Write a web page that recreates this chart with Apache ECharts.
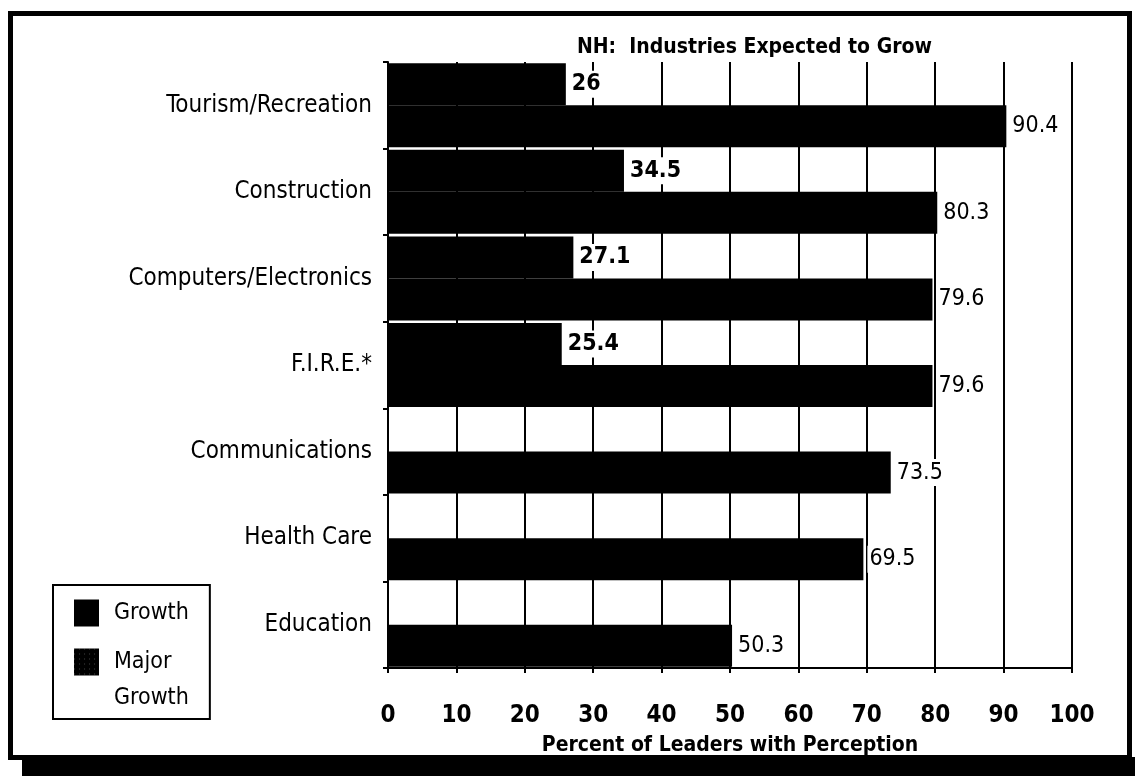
<!DOCTYPE html>
<html>
<head>
<meta charset="utf-8">
<title>NH: Industries Expected to Grow</title>
<script src="https://cdn.jsdelivr.net/npm/echarts@6/dist/echarts.min.js"></script>
<style>
  html, body { margin: 0; padding: 0; background: #fff; }
  #growthChart { width: 1135px; height: 776px; }
</style>
</head>
<body>
<div id="growthChart"></div>
<script>
// values
const categories = ['Tourism/Recreation', 'Construction', 'Computers/Electronics', 'F.I.R.E.*',
                    'Communications', 'Health Care', 'Education'];
const growth = [90.4, 80.3, 79.6, 79.6, 73.5, 69.5, 50.3];
const majorGrowth = [26, 34.5, 27.1, 25.4, null, null, null];
const xTicks = [0, 10, 20, 30, 40, 50, 60, 70, 80, 90, 100];

const font = '"DejaVu Sans Condensed", "Liberation Sans Narrow", "DejaVu Sans", sans-serif';

let chart = echarts.init(document.getElementById('growthChart'));

let option = {
    backgroundColor: '#fff',
    textStyle: { fontFamily: font, color: '#000' },
    animation: false,
    title: {
        text: 'NH:  Industries Expected to Grow',
        left: 572,
        top: 32,
        textStyle: { fontFamily: font, fontSize: 21, fontWeight: 'bold', color: '#000' }
    },
    legend: {
        orient: 'vertical',
        left: 53,
        top: 585,
        padding: [13, 21, 3, 21],
        itemGap: -20,
        itemWidth: 25,
        itemHeight: 27,
        icon: 'rect',
        borderColor: '#000',
        borderWidth: 2,
        textStyle: {
            fontFamily: font, fontSize: 23, color: '#000', lineHeight: 30, padding: [0, 0, 0, 10],
            rich: {
                s: { fontFamily: font, fontSize: 23, color: '#000', lineHeight: 36 },
                t: { fontFamily: font, fontSize: 23, color: '#000', lineHeight: 36 }
            }
        },
        // blank first line keeps the icon level with "Major"
        formatter: name => name === 'Major Growth' ? '{s| }\n{t|Major}\n{t|Growth}' : name,
        data: [
            'Growth',
            { name: 'Major Growth',
              itemStyle: { decal: { symbol: 'rect', symbolSize: 0.5, color: '#fff', dashArrayX: [1, 4], dashArrayY: [1, 4] } } }
        ]
    },
    grid: { left: 388, right: 63, top: 62, bottom: 108 },
    xAxis: {
        type: 'value',
        min: xTicks[0],
        max: xTicks[xTicks.length - 1],
        interval: 10,
        name: 'Percent of Leaders with Perception',
        nameLocation: 'middle',
        nameGap: 67,
        nameTextStyle: { fontFamily: font, fontSize: 21, fontWeight: 'bold', color: '#000' },
        axisLine: { show: true, lineStyle: { color: '#000', width: 2 } },
        axisTick: { show: true, length: 5, lineStyle: { color: '#000', width: 2 } },
        axisLabel: { fontFamily: font, fontSize: 24, fontWeight: 'bold', color: '#000', margin: 36 },
        splitLine: { show: true, lineStyle: { color: '#000', width: 2 } }
    },
    yAxis: {
        type: 'category',
        data: categories,
        inverse: true,
        axisLine: { show: true, lineStyle: { color: '#000', width: 2 } },
        axisTick: { show: true, length: 5, lineStyle: { color: '#000', width: 2 } },
        axisLabel: { fontFamily: font, fontSize: 24, color: '#000', margin: 16 }
    },
    series: [
        {
            name: 'Major Growth',
            type: 'bar',
            data: majorGrowth,
            barGap: '0%',
            barCategoryGap: '3%',
            itemStyle: { color: '#000' },
            label: {
                show: true,
                position: 'right',
                distance: 4,
                fontFamily: font,
                fontSize: 23,
                fontWeight: 'bold',
                color: '#000',
                backgroundColor: '#fff',
                padding: [2, 2]
            }
        },
        {
            name: 'Growth',
            type: 'bar',
            data: growth,
            barGap: '0%',
            barCategoryGap: '3%',
            itemStyle: { color: '#000' },
            label: {
                show: true,
                position: 'right',
                distance: 4,
                fontFamily: font,
                fontSize: 23,
                color: '#000',
                backgroundColor: '#fff',
                padding: [2, 2]
            }
        }
    ],
    graphic: [
        // scanned page frame
        { type: 'rect', shape: { x: 10.5, y: 13.5, width: 1119, height: 744 },
          style: { fill: null, stroke: '#000', lineWidth: 5 }, silent: true },
        { type: 'rect', shape: { x: 22, y: 757, width: 1113, height: 19 },
          style: { fill: '#000' }, silent: true }
    ]
};

chart.setOption(option);
</script>
</body>
</html>
